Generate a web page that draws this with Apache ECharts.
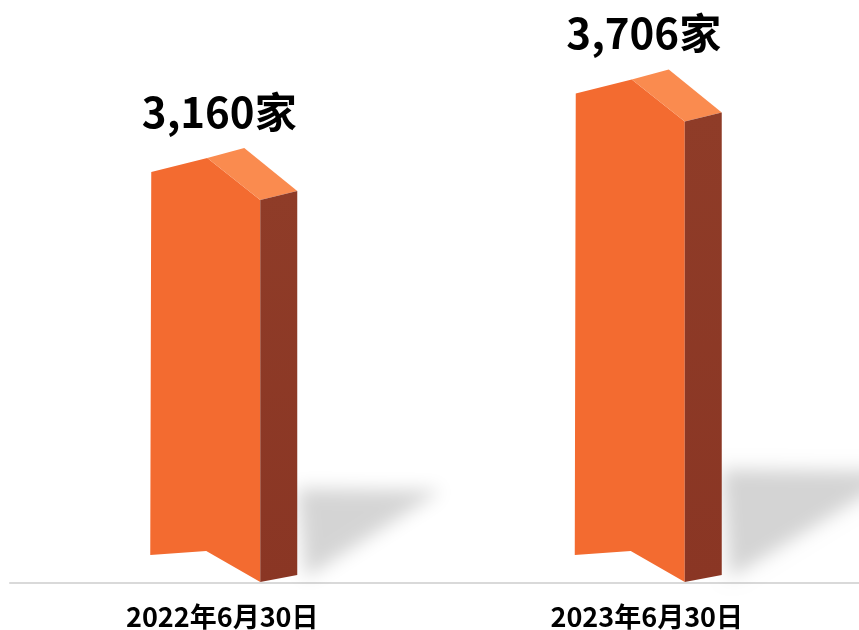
<!DOCTYPE html>
<html>
<head>
<meta charset="utf-8">
<script src="https://cdn.jsdelivr.net/npm/echarts@6/dist/echarts.min.js"></script>
<style>
html,body{margin:0;padding:0;background:#fff;}
#chart{width:859px;height:630px;}
</style>
</head>
<body>
<div id="chart"></div>
<script>
const categories = ['2022年6月30日', '2023年6月30日'];
const values = [3160, 3706];
const valueLabels = ['3,160家', '3,706家'];
const yMin = 500;
const yMax = 4550;

const FONT = '"Noto Sans CJK SC", "Noto Sans", sans-serif';
const chart = echarts.init(document.getElementById('chart'));

function renderItem(params, api) {
  const i = api.value(0);
  const v = api.value(1);
  const top = api.coord([i, v]);
  const base = api.coord([i, yMin]);
  const cx = top[0];
  const px = cx + 38;
  const yT = top[1];
  const yB = base[1] - 1;
  const h = yB - yT;
  const off = 3000;
  const shadowPts = [
    [px + 37 - off, yB - 0.245 * h],
    [px + 0.475 * h - off, yB - 0.24 * h],
    [px + 45 - off, yB - 4]
  ];
  return {
    type: 'group',
    children: [
      {
        type: 'polygon',
        shape: { points: shadowPts },
        style: { fill: '#000', shadowBlur: 18, shadowColor: 'rgba(0,0,0,0.17)', shadowOffsetX: off, shadowOffsetY: 0 },
        silent: true
      },
      {
        type: 'polygon',
        shape: { points: [[px - 109, yT - 28], [px - 53, yT - 42], [px, yT], [px, yB], [px - 54, yB - 31], [px - 110, yB - 27]] },
        style: { fill: '#F36B30' }
      },
      {
        type: 'polygon',
        shape: { points: [[px - 53, yT - 42], [px - 16, yT - 52], [px + 37, yT - 9], [px, yT]] },
        style: { fill: '#FA8B4F' }
      },
      {
        type: 'polygon',
        shape: { points: [[px, yT], [px + 37, yT - 9], [px + 37, yB - 7], [px, yB]] },
        style: {
          fill: new echarts.graphic.LinearGradient(0, 0, 0, 1, [
            { offset: 0, color: '#8F3C28' },
            { offset: 1, color: '#8A3624' }
          ])
        }
      },
      {
        type: 'text',
        x: cx - 3,
        y: yT - 88,
        style: {
          text: valueLabels[params.dataIndex],
          fontSize: 42,
          fontWeight: 'bold',
          fontFamily: FONT,
          fill: '#000',
          align: 'center',
          verticalAlign: 'middle'
        }
      }
    ]
  };
}

chart.setOption({
  animation: false,
  backgroundColor: '#fff',
  grid: { left: 10, right: 0, top: 0, bottom: 47 },
  xAxis: {
    type: 'category',
    data: categories,
    axisLine: { show: true, lineStyle: { color: '#d9d9d9', width: 2 } },
    axisTick: { show: false },
    axisLabel: { margin: 20, fontSize: 27, fontWeight: 'bold', fontFamily: FONT, color: '#000' }
  },
  yAxis: {
    type: 'value',
    min: yMin,
    max: yMax,
    show: false,
    splitLine: { show: false }
  },
  series: [{
    type: 'custom',
    renderItem: renderItem,
    clip: false,
    data: values.map((v, i) => [i, v])
  }]
});
</script>
</body>
</html>
